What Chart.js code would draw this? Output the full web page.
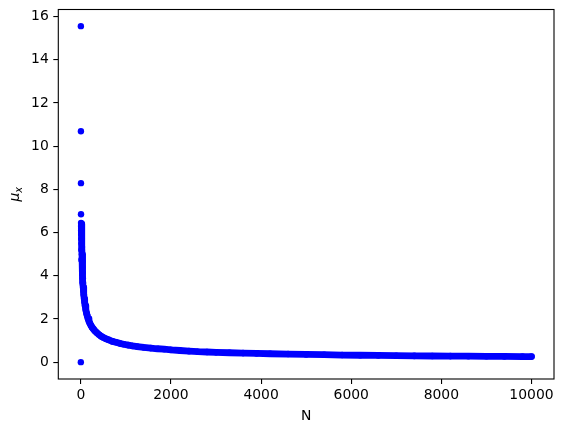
<!DOCTYPE html>
<html>
<head>
<meta charset="utf-8">
<script src="https://cdn.jsdelivr.net/npm/chart.js@4.4.1/dist/chart.umd.min.js"></script>
<style>
  html, body { margin: 0; padding: 0; background: #ffffff; }
  #wrap { width: 564px; height: 432px; }
</style>
</head>
<body>
<div id="wrap"><canvas id="c" width="564" height="432"></canvas></div>
<script>
// ---- data ----
const earlyN  = [0, 1, 2, 3, 4];
const earlyMu = [0, 15.56, 10.69, 8.29, 6.85];

const clusterN  = [5, 6, 7, 8, 9, 10, 11, 12, 13, 14, 15];
const clusterMu = [6.45, 6.30, 6.10, 5.90, 6.20, 5.70, 5.20, 5.50, 4.74, 5.95, 6.05];

const bandN = [16, 18, 20, 23, 26, 30, 34, 38, 43, 48, 54, 60, 67, 75, 85, 95, 110, 125, 140, 160,
  180, 200, 225, 250, 280, 310, 350, 400, 450, 500, 560, 620, 700, 780, 860, 950, 1050, 1150, 1250, 1400,
  1550, 1700, 1850, 2000, 2200, 2400, 2600, 2800, 3000, 3300, 3600, 3900, 4200, 4600, 5000, 5400, 5800, 6200, 6600, 7000,
  7400, 7800, 8200, 8600, 9000, 9400, 9800, 10000];
const bandMu = [6.40, 6.05, 5.72, 5.33, 5.00, 4.66, 4.38, 4.14, 3.89, 3.68, 3.47, 3.29, 3.12, 2.94, 2.77, 2.62, 2.43, 2.28, 2.16, 2.02,
  1.90, 1.80, 1.70, 1.61, 1.53, 1.45, 1.37, 1.28, 1.20, 1.14, 1.08, 1.03, 0.96, 0.92, 0.87, 0.83, 0.79, 0.75, 0.72, 0.68,
  0.65, 0.62, 0.60, 0.57, 0.54, 0.51, 0.485, 0.47, 0.455, 0.435, 0.42, 0.405, 0.39, 0.375, 0.36, 0.345, 0.33, 0.32, 0.31, 0.30,
  0.29, 0.285, 0.28, 0.275, 0.27, 0.265, 0.26, 0.26];

const xTicks = [0, 2000, 4000, 6000, 8000, 10000];
const yTicks = [0, 2, 4, 6, 8, 10, 12, 14, 16];
const xLabel = 'N';

function pts(xs, ys) { return xs.map((x, i) => ({ x: x, y: ys[i] })); }

const BLUE = '#0000ff';
const FONT = 'DejaVu Sans';
const FS = 13.9;

const framePlugin = {
  id: 'frame',
  afterDraw(chart) {
    const ctx = chart.ctx, a = chart.chartArea;
    ctx.save();
    ctx.strokeStyle = '#000';
    ctx.lineWidth = 1.1;
    ctx.strokeRect(a.left, a.top, a.right - a.left, a.bottom - a.top);
    // x-axis title
    ctx.fillStyle = '#000';
    ctx.font = FS + 'px "' + FONT + '"';
    ctx.textAlign = 'center';
    ctx.textBaseline = 'alphabetic';
    ctx.fillText(xLabel, (a.left + a.right) / 2, 420);
    // y-axis title: italic mu with subscript x
    const fMain = 'italic ' + FS + 'px "' + FONT + '"';
    const fSub = 'italic ' + (FS * 0.7) + 'px "' + FONT + '"';
    ctx.font = fMain;
    const wMu = ctx.measureText('\u03bc').width;
    ctx.font = fSub;
    const wX = ctx.measureText('x').width;
    const total = wMu + wX;
    ctx.translate(19.3, (a.top + a.bottom) / 2);
    ctx.rotate(-Math.PI / 2);
    ctx.textAlign = 'left';
    ctx.font = fMain;
    ctx.fillText('\u03bc', -total / 2, 0);
    ctx.font = fSub;
    ctx.fillText('x', -total / 2 + wMu, 2.7);
    ctx.restore();
  }
};

new Chart(document.getElementById('c'), {
  type: 'scatter',
  data: {
    datasets: [
      {
        data: pts(bandN, bandMu),
        showLine: true,
        borderColor: BLUE,
        backgroundColor: BLUE,
        borderWidth: 6.8,
        borderCapStyle: 'round',
        borderJoinStyle: 'round',
        pointRadius: 3.3,
        pointBorderWidth: 0,
        tension: 0
      },
      {
        data: pts(clusterN, clusterMu),
        showLine: false,
        backgroundColor: BLUE,
        borderColor: BLUE,
        pointRadius: 3.2,
        pointBorderWidth: 0
      },
      {
        data: pts(earlyN, earlyMu),
        showLine: false,
        backgroundColor: BLUE,
        borderColor: BLUE,
        pointRadius: 3.2,
        pointBorderWidth: 0
      }
    ]
  },
  options: {
    responsive: false,
    animation: false,
    devicePixelRatio: 1,
    layout: { padding: { left: 0, right: 10, top: 9.5, bottom: 0 } },
    plugins: { legend: { display: false }, tooltip: { enabled: false } },
    scales: {
      x: {
        type: 'linear',
        min: -500,
        max: 10500,
        afterBuildTicks: s => { s.ticks = xTicks.map(v => ({ value: v })); },
        afterFit: s => { s.height = 53; s.paddingLeft = 0; s.paddingRight = 0; },
        grid: { display: true, drawOnChartArea: false, drawTicks: true, tickLength: 5, color: '#000', lineWidth: 1.1 },
        border: { display: false },
        ticks: { color: '#000', font: { family: FONT, size: FS }, padding: 3, maxRotation: 0, autoSkip: false,
                 callback: v => String(v) }
      },
      y: {
        type: 'linear',
        min: -0.78,
        max: 16.33,
        afterBuildTicks: s => { s.ticks = yTicks.map(v => ({ value: v })); },
        afterFit: s => { s.width = 58.3; s.paddingTop = 0; s.paddingBottom = 0; },
        grid: { display: true, drawOnChartArea: false, drawTicks: true, tickLength: 5, color: '#000', lineWidth: 1.1 },
        border: { display: false },
        ticks: { color: '#000', font: { family: FONT, size: FS }, padding: 4.5, callback: v => String(v) }
      }
    }
  },
  plugins: [framePlugin]
});
</script>
</body>
</html>
